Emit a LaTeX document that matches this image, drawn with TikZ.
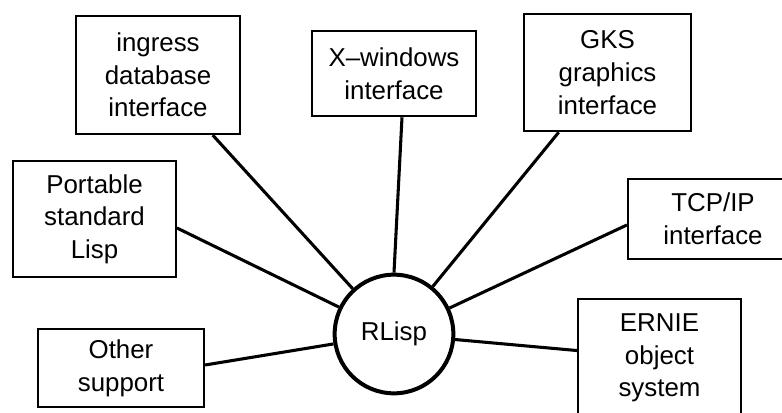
\documentclass[tikz,border=0pt]{standalone}
\usepackage{fontspec}
\setmainfont{Liberation Sans}
\usetikzlibrary{positioning}
\tikzset{
  module/.style={draw,line width=1.7pt,align=center,inner sep=0pt,
    font=\fontsize{19.4}{24.5}\selectfont},
  core/.style={draw,circle,line width=3pt,inner sep=0pt,minimum size=89pt,
    font=\fontsize{19.4}{24}\selectfont},
  link/.style={draw,line width=2.3pt}
}
\begin{document}
\begin{tikzpicture}[x=0.75pt,y=-0.75pt]
  \clip (0,0) rectangle (782,413);
  \node[core] (rlisp) at (394,334) {RLisp};
  \node[module,minimum width=123pt,minimum height=88.5pt] (ingress) at (158,75) {ingress\\database\\interface};
  \node[module,minimum width=123pt,minimum height=64pt] (xwin) at (394,73.5) {X--windows\\interface};
  \node[module,minimum width=125pt,minimum height=88pt] (gks) at (607.5,72.5) {GKS\\graphics\\interface};
  \node[module,minimum width=122pt,minimum height=87pt] (psl) at (94.5,219) {Portable\\standard\\Lisp};
  \node[module,minimum width=127.5pt,minimum height=60pt] (tcp) at (713,219) {TCP/IP\\interface};
  \node[module,minimum width=122pt,minimum height=88.5pt] (ernie) at (659.5,358) {ERNIE\\object\\system};
  \node[module,minimum width=124.5pt,minimum height=58.5pt] (other) at (121,368) {Other\\support};
  \draw[link] (rlisp) -- (ingress);
  \draw[link] (rlisp.north) -- ([xshift=6pt]xwin.south);
  \draw[link] (rlisp) -- (gks);
  \draw[link] (rlisp) -- ([yshift=-6.75pt]psl.east);
  \draw[link] (rlisp) -- ([yshift=-4.5pt]tcp.west);
  \draw[link] (rlisp) -- (ernie);
  \draw[link] (rlisp) -- ([yshift=2.25pt]other.east);
\end{tikzpicture}
\end{document}
